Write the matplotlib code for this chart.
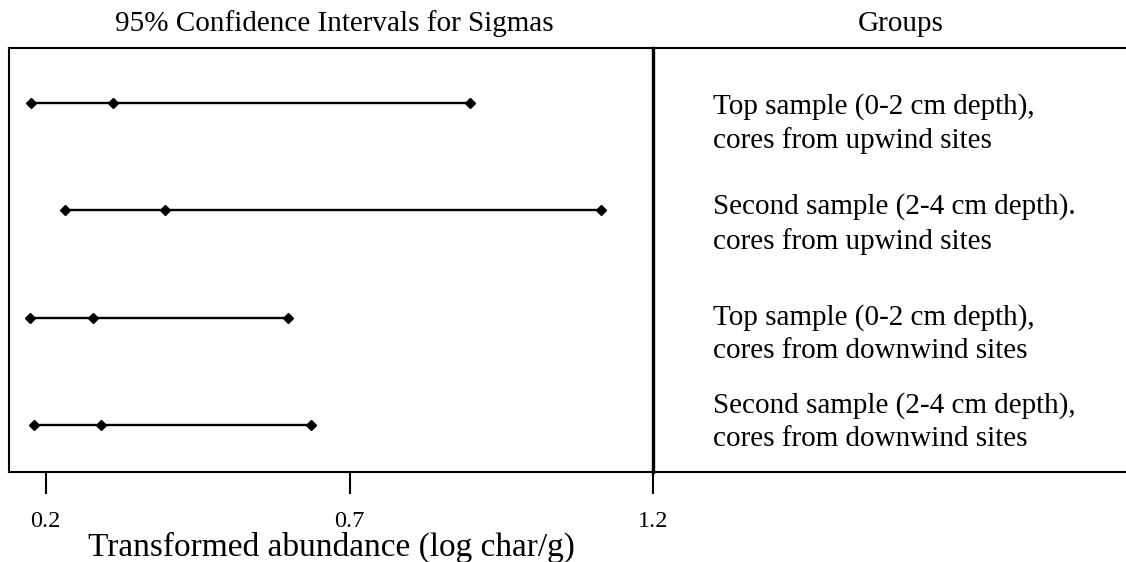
import matplotlib.pyplot as plt
import numpy as np

# Grupos y limites de los intervalos de confianza (95%) para sigma
grupos = [
    "Top sample (0-2 cm depth),\ncores from upwind sites",
    "Second sample (2-4 cm depth).\ncores from upwind sites",
    "Top sample (0-2 cm depth),\ncores from downwind sites",
    "Second sample (2-4 cm depth),\ncores from downwind sites",
]
inferior = [0.176, 0.232, 0.174, 0.181]
sigma = [0.311, 0.397, 0.277, 0.291]
superior = [0.899, 1.114, 0.598, 0.637]
ticks_x = [0.2, 0.7, 1.2]

plt.rcParams['font.family'] = ['Liberation Serif', 'DejaVu Serif']

fig = plt.figure(figsize=(11.26, 5.62), dpi=100)

# Panel izquierdo: intervalos
izq, abajo, alto = 9.3 / 1126, 1 - 472.3 / 562, (472.3 - 48) / 562
div = 653.3 / 1126
ax = fig.add_axes([izq, abajo, div - izq, alto])

y = np.arange(1, len(grupos) + 1)
for yi, lo, s, hi in zip(y, inferior, sigma, superior):
    ax.plot([lo, s, hi], [yi, yi, yi], color='black', lw=1.7,
            marker='D', markersize=5.2)

ax.set_xlim(0.14, 1.2)
ax.set_ylim(4.44, 0.49)
ax.set_yticks([])
ax.set_xticks(ticks_x)
ax.set_xticklabels([f"{t:.1f}" for t in ticks_x])
ax.tick_params(axis='x', direction='out', length=16, width=1.5,
               labelsize=17.5, pad=12)
for lado in ['left', 'top', 'bottom']:
    ax.spines[lado].set_linewidth(1.5)
ax.spines['right'].set_linewidth(2.4)
ax.set_xlabel("Transformed abundance (log char/g)", fontsize=24, labelpad=-0.5)

# Panel derecho: nombres de los grupos
ax2 = fig.add_axes([div, abajo, 1 - div, alto])
ax2.set_xlim(0, 1)
ax2.set_ylim(4.44, 0.49)
ax2.set_xticks([])
ax2.set_yticks([])
ax2.spines['left'].set_visible(False)
ax2.spines['right'].set_visible(False)
ax2.spines['top'].set_linewidth(1.5)
ax2.spines['bottom'].set_linewidth(1.5)
ax2.set_facecolor('none')

desplaz = [0.19, 0.13, 0.15, -0.03]
for yi, d, g in zip(y, desplaz, grupos):
    ax2.text(0.127, yi + d, g, fontsize=21, va='center', ha='left',
             linespacing=1.35)

fig.text(334 / 1126, 1 - 31 / 562, "95% Confidence Intervals for Sigmas",
         fontsize=21, ha='center', va='baseline')
fig.text(901 / 1126, 1 - 31 / 562, "Groups", fontsize=21,
         ha='center', va='baseline')

fig.savefig('out.png', dpi=100)
